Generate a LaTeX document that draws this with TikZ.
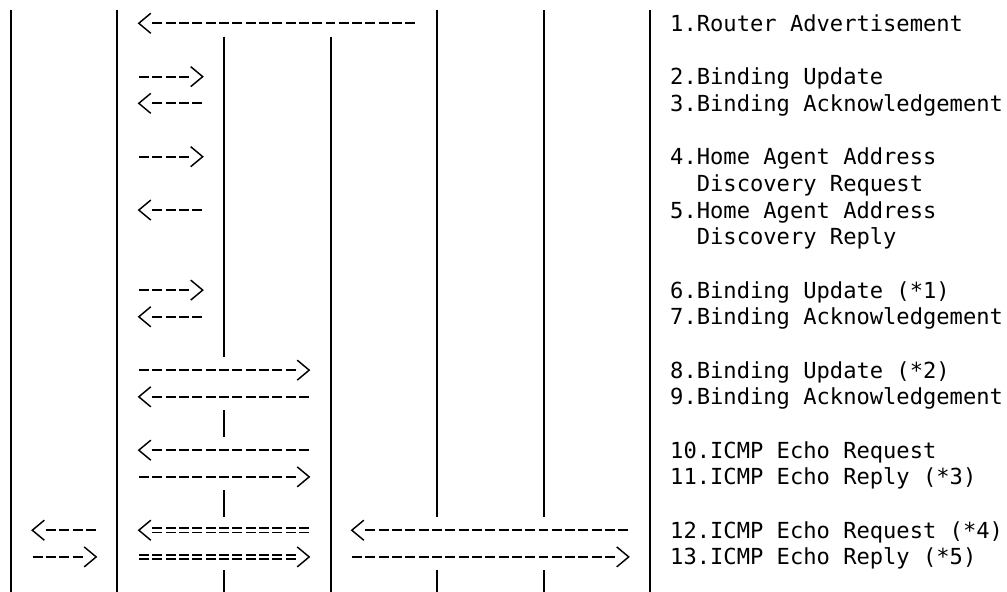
\documentclass[tikz,border=0pt]{standalone}
\usepackage{fontspec}
\setmonofont{DejaVu Sans Mono}

\begin{document}
\begin{tikzpicture}[x=9.984pt,y=-20.01pt,
  bar/.style={line width=1.5pt},
  dsh/.style={line width=1.45pt,dash pattern=on 7.49pt off 2.494pt},
  dbl/.style={line width=1.2pt,double,double distance=2.1pt,dash pattern=on 7.49pt off 2.494pt},
  tip/.style={line width=1.1pt,line join=miter},
  lbl/.style={anchor=base west,inner sep=0pt,font=\ttfamily\fontsize{16.58pt}{20pt}\selectfont}]
\useasboundingbox (-0.826,-0.873) rectangle (74.817,21.315);

% lifelines, column/top/bottom
\foreach \c/\f/\t [count=\i] in {0/-0.5/21.32, 8/-0.5/21.32, 16/0.5/12.5, 16/14.5/15.5,
    16/17.5/18.5, 16/20.5/21.32, 24/0.5/21.32, 32/-0.5/18.5, 32/20.5/21.32,
    40/-0.5/18.5, 40/20.5/21.32, 48/-0.5/21.32} {
  \coordinate (vt\i) at (\c,\f);
  \coordinate (vb\i) at (\c,\t);
  \draw[bar] (vt\i) -- (vb\i);
}

% messages to the left, row/first/last column
\foreach \r/\a/\b [count=\i] in {0/10/30, 3/10/14, 7/10/14, 11/10/14, 14/10/22,
    16/10/22, 19/2/6, 19/26/46} {
  \coordinate (lp\i) at (\a-0.4,\r);
  \coordinate (ls\i) at (\a+0.625,\r);
  \coordinate (le\i) at (\b+0.375,\r);
  \draw[dsh] (ls\i) -- (le\i);
  \draw[tip] ([shift={(9pt,7.5pt)}]lp\i) -- (lp\i) -- ([shift={(9pt,-7.5pt)}]lp\i);
}

% messages to the right
\foreach \r/\a/\b [count=\i] in {2/10/14, 5/10/14, 10/10/14, 13/10/22, 17/10/22,
    20/2/6, 20/26/46} {
  \coordinate (rp\i) at (\b+0.4,\r);
  \coordinate (rs\i) at (\a-0.375,\r);
  \coordinate (re\i) at (\b-0.625,\r);
  \draw[dsh] (rs\i) -- (re\i);
  \draw[tip] ([shift={(-9pt,7.5pt)}]rp\i) -- (rp\i) -- ([shift={(-9pt,-7.5pt)}]rp\i);
}

% tunnelled echo (=)
\coordinate (dlp) at (9.6,19);
\coordinate (dls) at (10.625,19);
\coordinate (dle) at (22.375,19);
\draw[dbl] (dls) -- (dle);
\draw[tip] ([shift={(9pt,7.5pt)}]dlp) -- (dlp) -- ([shift={(9pt,-7.5pt)}]dlp);
\coordinate (drp) at (22.4,20);
\coordinate (drs) at (9.625,20);
\coordinate (dre) at (21.375,20);
\draw[dbl] (drs) -- (dre);
\draw[tip] ([shift={(-9pt,7.5pt)}]drp) -- (drp) -- ([shift={(-9pt,-7.5pt)}]drp);

\node[lbl] (m1) at (49.5,0.3) {1.Router Advertisement};
\node[lbl] (m2) at (49.5,2.3) {2.Binding Update};
\node[lbl] (m3) at (49.5,3.3) {3.Binding Acknowledgement};
\node[lbl] (m4) at (49.5,5.3) {4.Home Agent Address};
\node[lbl] (m4b) at (51.5,6.3) {Discovery Request};
\node[lbl] (m5) at (49.5,7.3) {5.Home Agent Address};
\node[lbl] (m5b) at (51.5,8.3) {Discovery Reply};
\node[lbl] (m6) at (49.5,10.3) {6.Binding Update (*1)};
\node[lbl] (m7) at (49.5,11.3) {7.Binding Acknowledgement};
\node[lbl] (m8) at (49.5,13.3) {8.Binding Update (*2)};
\node[lbl] (m9) at (49.5,14.3) {9.Binding Acknowledgement};
\node[lbl] (m10) at (49.5,16.3) {10.ICMP Echo Request};
\node[lbl] (m11) at (49.5,17.3) {11.ICMP Echo Reply (*3)};
\node[lbl] (m12) at (49.5,19.3) {12.ICMP Echo Request (*4)};
\node[lbl] (m13) at (49.5,20.3) {13.ICMP Echo Reply (*5)};
\end{tikzpicture}
\end{document}
